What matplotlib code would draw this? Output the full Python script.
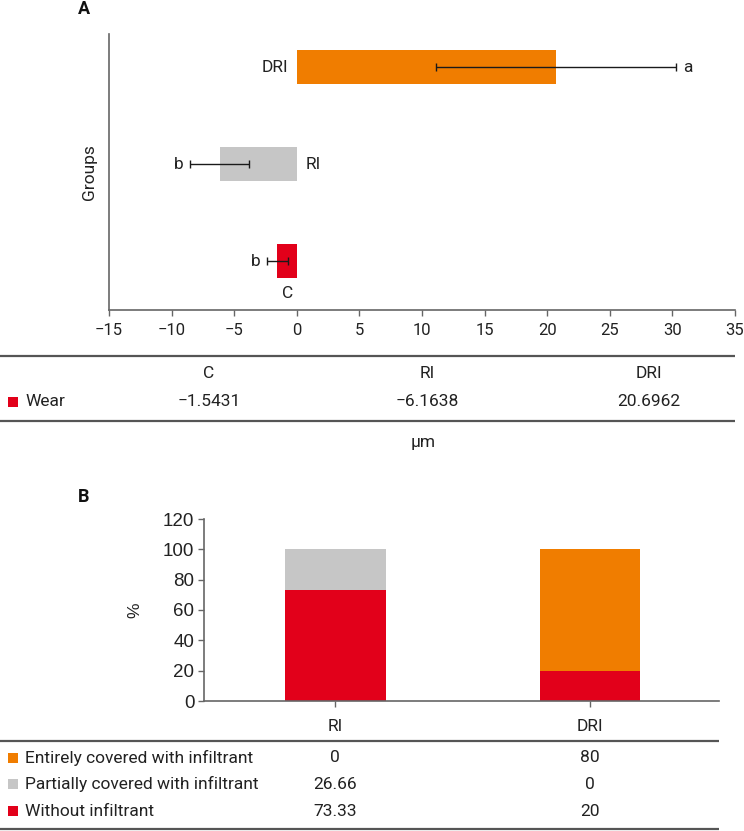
import matplotlib
matplotlib.use("Agg")
import matplotlib.pyplot as plt
from matplotlib.lines import Line2D
from matplotlib.patches import Rectangle

# ---------------- data ----------------
groups_a = ["C", "RI", "DRI"]
wear_mean = [-1.5431, -6.1638, 20.6962]
wear_sd = [0.82, 2.33, 9.57]
sig_letters = ["b", "b", "a"]
xticks_a = [-15, -10, -5, 0, 5, 10, 15, 20, 25, 30, 35]

groups_b = ["RI", "DRI"]
without_infiltrant = [73.33, 20]
partially_covered = [26.66, 0]
entirely_covered = [0, 80]
yticks_b = [0, 20, 40, 60, 80, 100, 120]

RED = "#E2001A"
GRAY = "#C6C6C6"
ORANGE = "#F07D00"
SPINE = "#666666"
RULE = "#555555"
TXT = "#222222"

colors_a = [RED, GRAY, ORANGE]

W, H = 744, 831
fig = plt.figure(figsize=(W / 100, H / 100), dpi=100)
FONT = ["Roboto", "DejaVu Sans"]
ARIAL = ["Liberation Sans", "DejaVu Sans"]
plt.rcParams["font.family"] = FONT
FS = 12.5


def fx(px):
    return px / W


def fy(py):
    return 1 - py / H


def hline(y, x0, x1):
    fig.add_artist(Line2D([fx(x0), fx(x1)], [fy(y), fy(y)], transform=fig.transFigure,
                          color=RULE, lw=1.6, solid_capstyle="butt"))


# ---------------- Panel A ----------------
axA = fig.add_axes([fx(109), fy(310), fx(735) - fx(109), fy(34.3) - fy(310)])
ypos = list(range(len(groups_a)))
axA.barh(ypos, wear_mean, height=0.347, color=colors_a, zorder=2)
axA.errorbar(wear_mean, ypos, xerr=wear_sd, fmt="none", ecolor="#1a1a1a",
             elinewidth=1.0, capsize=2.6, capthick=1.0, zorder=3)
axA.set_xlim(-15, 35)
axA.set_ylim(-0.503, 2.338)
axA.set_xticks(xticks_a)
axA.set_yticks([])
for s in ["top", "right"]:
    axA.spines[s].set_visible(False)
for s in ["left", "bottom"]:
    axA.spines[s].set_color(SPINE)
    axA.spines[s].set_linewidth(1.2)
axA.tick_params(axis="x", direction="out", length=4.2, width=1.0, color=SPINE,
                labelsize=12, labelcolor=TXT, pad=5)
axA.set_ylabel("Groups", fontsize=FS, color=TXT, labelpad=9)

for i, (g, m, sd, let) in enumerate(zip(groups_a, wear_mean, wear_sd, sig_letters)):
    if m >= 0:
        axA.annotate(g, xy=(0, i), xytext=(-6, 0), textcoords="offset points",
                     ha="right", va="center", fontsize=FS, color=TXT)
        axA.annotate(let, xy=(m + sd, i), xytext=(5, 0), textcoords="offset points",
                     ha="left", va="center", fontsize=FS, color=TXT)
    else:
        axA.annotate(let, xy=(m - sd, i), xytext=(-5, 0), textcoords="offset points",
                     ha="right", va="center", fontsize=FS, color=TXT)
        if i == 0:
            axA.annotate(g, xy=(m / 2, i - 0.347 / 2), xytext=(0, -6),
                         textcoords="offset points", ha="center", va="top",
                         fontsize=FS, color=TXT)
        else:
            axA.annotate(g, xy=(0, i), xytext=(6.5, 0), textcoords="offset points",
                         ha="left", va="center", fontsize=FS, color=TXT)

fig.text(fx(84), fy(9.5), "A", fontsize=13, fontweight="bold", ha="center",
         va="center", color="#111111")

# Table A
colx_a = [209, 427, 649]
hline(355.7, 0, 735)
for g, cx in zip(groups_a, colx_a):
    fig.text(fx(cx), fy(373), g, ha="center", va="center", fontsize=FS, color=TXT)
fig.add_artist(Rectangle((fx(8), fy(407)), fx(10), 10 / H, transform=fig.transFigure,
                         color=RED, lw=0))
fig.text(fx(25.5), fy(402), "Wear", ha="left", va="center", fontsize=FS, color=TXT)
for v, cx in zip(wear_mean, colx_a):
    fig.text(fx(cx), fy(402), f"{v:.4f}".replace("-", "\u2212"), ha="center",
             va="center", fontsize=FS, color=TXT)
hline(421, 0, 735)
fig.text(fx(423), fy(442), "\u00b5m", ha="center", va="center", fontsize=FS, color=TXT)

# ---------------- Panel B ----------------
axB = fig.add_axes([fx(204), fy(701), fx(719) - fx(204), fy(519) - fy(701)])
xb = list(range(len(groups_b)))
bw = 0.396
axB.bar(xb, without_infiltrant, width=bw, color=RED, zorder=2)
bottom2 = list(without_infiltrant)
axB.bar(xb, partially_covered, width=bw, bottom=bottom2, color=GRAY, zorder=2)
bottom3 = [a + b for a, b in zip(without_infiltrant, partially_covered)]
axB.bar(xb, entirely_covered, width=bw, bottom=bottom3, color=ORANGE, zorder=2)
axB.set_xlim(-0.514, 1.506)
axB.set_ylim(0, 120)
axB.set_yticks(yticks_b)
axB.set_xticks(xb)
axB.set_xticklabels(groups_b, fontsize=FS, color=TXT, fontfamily=FONT)
for s in ["top", "right"]:
    axB.spines[s].set_visible(False)
for s in ["left", "bottom"]:
    axB.spines[s].set_color(SPINE)
    axB.spines[s].set_linewidth(1.2)
axB.tick_params(axis="y", direction="out", length=4, width=1.0, color=SPINE,
                labelsize=13.5, labelcolor="#222222", pad=3)
for lab in axB.get_yticklabels():
    lab.set_fontfamily(ARIAL)
axB.tick_params(axis="x", direction="out", length=4, width=1.0, color=SPINE, pad=9)
axB.set_ylabel("%", fontsize=FS, color=TXT, labelpad=15, fontfamily=ARIAL)

fig.text(fx(84), fy(497.5), "B", fontsize=13, fontweight="bold", ha="center",
         va="center", color="#111111")

# Table B
colx_b = [335, 590]
hline(740.7, 0, 719)
rows_b = [("Entirely covered with infiltrant", ORANGE, entirely_covered),
          ("Partially covered with infiltrant", GRAY, partially_covered),
          ("Without infiltrant", RED, without_infiltrant)]
row_y = [757.7, 784.3, 811.3]


def fmt(v):
    return f"{v:g}" if float(v).is_integer() else f"{v:.2f}"


for (label, col, vals), ry in zip(rows_b, row_y):
    fig.add_artist(Rectangle((fx(8), fy(ry + 5)), fx(10), 10 / H,
                             transform=fig.transFigure, color=col, lw=0))
    fig.text(fx(25.5), fy(ry), label, ha="left", va="center", fontsize=FS, color=TXT)
    for v, cx in zip(vals, colx_b):
        fig.text(fx(cx), fy(ry), fmt(v), ha="center", va="center", fontsize=FS, color=TXT)
hline(829, 0, 719)

fig.savefig("out.png", dpi=100)
